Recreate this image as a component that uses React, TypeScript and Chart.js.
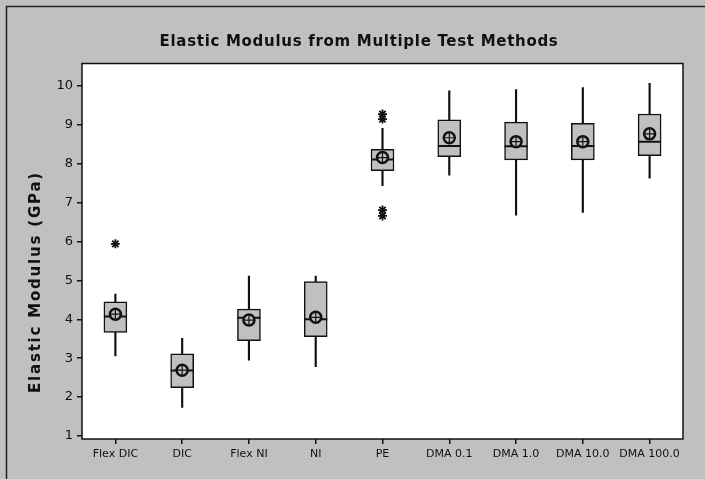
import React, { useEffect, useRef } from "react";
import { Chart, registerables } from "chart.js";

Chart.register(...registerables);

const categories = ["Flex DIC", "DIC", "Flex NI", "NI", "PE", "DMA 0.1", "DMA 1.0", "DMA 10.0", "DMA 100.0"];
const whiskerLow = [3.06, 1.73, 2.95, 2.78, 7.44, 7.71, 6.68, 6.75, 7.63];
const q1 = [3.66, 2.24, 3.45, 3.55, 7.82, 8.18, 8.1, 8.1, 8.21];
const median = [4.07, 2.68, 4.04, 4.0, 8.11, 8.46, 8.45, 8.46, 8.57];
const q3 = [4.45, 3.11, 4.26, 4.97, 8.37, 9.13, 9.07, 9.04, 9.28];
const whiskerHigh = [4.65, 3.51, 5.11, 5.11, 8.91, 9.88, 9.91, 9.96, 10.07];
const means = [4.13, 2.69, 3.98, 4.05, 8.16, 8.67, 8.57, 8.57, 8.77];
const outlierCategories = ["Flex DIC", "PE", "PE", "PE", "PE"];
const outlierValues = [5.94, 9.28, 9.15, 6.81, 6.66];
const yTicks = [1, 2, 3, 4, 5, 6, 7, 8, 9, 10];

const TITLE = "Elastic Modulus from Multiple Test Methods";
const Y_TITLE = "Elastic Modulus (GPa)";
const FONT = "'DejaVu Sans', sans-serif";

export default function App() {
  const ref = useRef<HTMLCanvasElement | null>(null);

  useEffect(() => {
    document.body.style.margin = "0";
    const canvas = ref.current;
    if (!canvas) return;

    const framePlugin = {
      id: "frame",
      beforeDraw(chart: any) {
        const { ctx, chartArea, width, height } = chart;
        ctx.save();
        ctx.fillStyle = "#c0c0c0";
        ctx.fillRect(0, 0, width, height);
        ctx.strokeStyle = "#222";
        ctx.lineWidth = 1.5;
        ctx.beginPath();
        ctx.moveTo(6.5, height);
        ctx.lineTo(6.5, 6.5);
        ctx.lineTo(width, 6.5);
        ctx.stroke();
        ctx.fillStyle = "#ffffff";
        ctx.fillRect(chartArea.left, chartArea.top, chartArea.right - chartArea.left, chartArea.bottom - chartArea.top);
        ctx.restore();
      },
      afterDraw(chart: any) {
        const { ctx, chartArea } = chart;
        ctx.save();
        ctx.strokeStyle = "#111";
        ctx.lineWidth = 1.5;
        ctx.strokeRect(chartArea.left, chartArea.top, chartArea.right - chartArea.left, chartArea.bottom - chartArea.top);
        ctx.fillStyle = "#111";
        ctx.textAlign = "center";
        ctx.textBaseline = "middle";
        ctx.font = "bold 15px " + FONT;
        (ctx as any).letterSpacing = "0.7px";
        ctx.fillText(TITLE, 359, 42);
        ctx.translate(36, 282);
        ctx.rotate(-Math.PI / 2);
        ctx.font = "bold 15px " + FONT;
        (ctx as any).letterSpacing = "1.8px";
        ctx.fillText(Y_TITLE, 0, 0);
        ctx.restore();
      },
    };

    const chart = new Chart(canvas, {
      type: "bar",
      data: {
        labels: categories,
        datasets: [
          {
            type: "line",
            label: "outliers",
            data: outlierCategories.map((c, i) => ({ x: c, y: outlierValues[i] })),
            showLine: false,
            pointStyle: "star",
            pointRadius: 4.5,
            borderWidth: 1.8,
            borderColor: "#111",
            backgroundColor: "#111",
            order: 1,
          } as any,
          {
            type: "line",
            label: "mean cross",
            data: means,
            showLine: false,
            pointStyle: "cross",
            pointRadius: 4.5,
            borderWidth: 1.2,
            borderColor: "#111",
            order: 1,
          } as any,
          {
            type: "line",
            label: "mean",
            data: means,
            showLine: false,
            pointStyle: "circle",
            pointRadius: 5.5,
            borderWidth: 2.5,
            borderColor: "#111",
            backgroundColor: "#c0c0c0",
            order: 2,
          } as any,
          {
            type: "line",
            label: "median",
            data: median,
            showLine: false,
            pointStyle: "line",
            pointRadius: 11.5,
            borderWidth: 2,
            borderColor: "#111",
            order: 3,
          } as any,
          {
            type: "bar",
            label: "box",
            data: q1.map((v, i) => [v, q3[i]]),
            backgroundColor: "#c0c0c0",
            borderColor: "#111",
            borderWidth: 1.5,
            borderSkipped: false,
            barThickness: 23,
            grouped: false,
            order: 4,
          } as any,
          {
            type: "bar",
            label: "whisker",
            data: whiskerLow.map((v, i) => [v, whiskerHigh[i]]),
            backgroundColor: "#111",
            borderWidth: 0,
            barThickness: 1.5,
            grouped: false,
            order: 5,
          } as any,
        ],
      },
      options: {
        responsive: false,
        animation: false,
        devicePixelRatio: 1,
        layout: { padding: { left: 0, right: 22, top: 63.5, bottom: 0 } },
        plugins: {
          legend: { display: false },
          tooltip: { enabled: false },
          title: { display: false },
        },
        scales: {
          x: {
            type: "category",
            offset: true,
            grid: { offset: false, drawOnChartArea: false, tickLength: 5, color: "#111", lineWidth: 1.5 },
            border: { display: false },
            ticks: { font: { family: FONT, size: 11 }, color: "#111", padding: 4, maxRotation: 0, autoSkip: false },
            afterFit: (s: any) => {
              s.height = 40;
            },
          },
          y: {
            type: "linear",
            min: 0.92,
            max: 10.58,
            afterBuildTicks: (s: any) => {
              s.ticks = yTicks.map((v) => ({ value: v }));
            },
            grid: { drawOnChartArea: false, tickLength: 5, color: "#111", lineWidth: 1.5 },
            border: { display: false },
            ticks: { font: { family: FONT, size: 13 }, color: "#111", padding: 4, includeBounds: false },
            afterFit: (s: any) => {
              s.width = 82;
            },
          },
        },
      } as any,
      plugins: [framePlugin],
    });

    return () => chart.destroy();
  }, []);

  return (
    <div style={{ width: 705, height: 479 }}>
      <canvas ref={ref} width={705} height={479} style={{ display: "block" }} />
    </div>
  );
}
